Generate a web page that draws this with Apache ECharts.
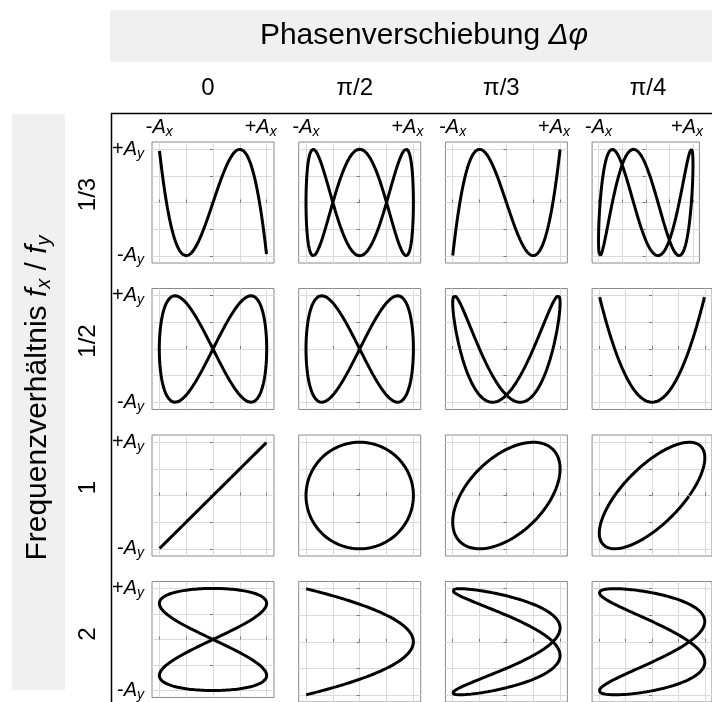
<!DOCTYPE html>
<html>
<head>
<meta charset="utf-8">
<script src="https://cdn.jsdelivr.net/npm/echarts@6/dist/echarts.min.js"></script>
<style>
  html, body { margin: 0; padding: 0; background: #fff; }
  #main { width: 712px; height: 702px; }
</style>
</head>
<body>
<div id="main"></div>
<script>
// Zeilen: Frequenzverhältnis fx / fy
var ratioLabels = ['1/3', '1/2', '1', '2'];
var fxValues = [1, 1, 1, 2];
var fyValues = [3, 2, 1, 1];
// Spalten: Phasenverschiebung
var phaseLabels = ['0', 'π/2', 'π/3', 'π/4'];
var phaseValues = [0, Math.PI / 2, Math.PI / 3, Math.PI / 4];
// Gitterlinien / Achsbeschriftung
var gridTicks = [-1, -0.5, 0, 0.5, 1];
var edgeTicks = [-1, 1];
var steps = 600;

var font = 'Liberation Sans, Arial, sans-serif';
var left0 = 152, top0 = 142, stepX = 146.7, stepY = 146.5, pw = 122, ph = 121;
var R = 1.136;

function lissajous(fx, fy, phi) {
    var pts = [];
    for (var i = 0; i <= steps; i++) {
        var t = 2 * Math.PI * i / steps;
        pts.push([Math.sin(fx * t + phi), Math.sin(fy * t)]);
    }
    return pts;
}

var labelRich = {
    s: { fontFamily: font, fontSize: 20, color: '#000' },
    a: { fontFamily: font, fontSize: 20, fontStyle: 'italic', color: '#000' },
    b: { fontFamily: font, fontSize: 14, fontStyle: 'italic', color: '#000', padding: [9, 0, 0, 0] }
};

var grids = [], xAxes = [], yAxes = [], series = [], graphics = [];

graphics.push({ type: 'rect', shape: { x: 110, y: 10, width: 602, height: 52 }, style: { fill: '#f0f0f0' } });
graphics.push({ type: 'rect', shape: { x: 12, y: 114, width: 53, height: 576 }, style: { fill: '#f0f0f0' } });
graphics.push({ type: 'polyline', shape: { points: [[712, 113.5], [111.5, 113.5], [111.5, 702]] },
    style: { stroke: '#000', lineWidth: 1.5, fill: null } });
graphics.push({ type: 'text', x: 424, y: 36, style: {
    text: '{n|Phasenverschiebung }{i|Δφ}', align: 'center', verticalAlign: 'middle',
    rich: { n: { fontFamily: font, fontSize: 30, color: '#000' },
            i: { fontFamily: font, fontSize: 30, fontStyle: 'italic', color: '#000' } } } });
graphics.push({ type: 'text', x: 38, y: 398, rotation: Math.PI / 2, style: {
    text: '{n|Frequenzverhältnis }{i|f}{b|x}{n| / }{i|f}{b|y}', align: 'center', verticalAlign: 'middle',
    rich: { n: { fontFamily: font, fontSize: 30, color: '#000' },
            i: { fontFamily: font, fontSize: 30, fontStyle: 'italic', color: '#000' },
            b: { fontFamily: font, fontSize: 20, fontStyle: 'italic', color: '#000', padding: [12, 0, 0, 0] } } } });

phaseLabels.forEach(function (lab, c) {
    graphics.push({ type: 'text', x: left0 + c * stepX + pw / 2 - 5, y: 88, style: {
        text: lab, fontFamily: font, fontSize: 24, fill: '#000', align: 'center', verticalAlign: 'middle' } });
});
ratioLabels.forEach(function (lab, r) {
    graphics.push({ type: 'text', x: 88, y: top0 + r * stepY + ph / 2 - 8, rotation: Math.PI / 2, style: {
        text: lab, fontFamily: font, fontSize: 24, fill: '#000', align: 'center', verticalAlign: 'middle' } });
});

for (var r = 0; r < 4; r++) {
    for (var c = 0; c < 4; c++) {
        var g = grids.length;
        grids.push({
            left: left0 + c * stepX, top: top0 + r * stepY, width: pw, height: ph,
            show: true, borderColor: '#8a8a8a', borderWidth: 1, backgroundColor: '#fff'
        });
        // unten: Ticks + Gitter
        xAxes.push({
            gridIndex: g, type: 'value', min: -R, max: R, position: 'bottom',
            axisLine: { show: false },
            axisTick: { show: true, inside: true, length: 3, customValues: gridTicks, lineStyle: { color: '#777' } },
            axisLabel: { show: false },
            splitLine: { show: true, lineStyle: { color: '#dadada', width: 1 } }
        });
        // oben: -Ax / +Ax in der ersten Zeile
        xAxes.push({
            gridIndex: g, type: 'value', min: -R, max: R, position: 'top',
            axisLine: { show: false }, axisTick: { show: false }, splitLine: { show: false },
            axisLabel: {
                show: r === 0, customValues: edgeTicks, margin: 3,
                formatter: function (v) { return v < 0 ? '{s|-}{a|A}{b|x}' : '{s|+}{a|A}{b|x}{p|}'; },
                rich: Object.assign({ p: { width: 12 } }, labelRich)
            }
        });
        // links: Gitter + -Ay / +Ay in der ersten Spalte
        yAxes.push({
            gridIndex: g, type: 'value', min: -R, max: R, position: 'left',
            axisLine: { show: false },
            axisTick: { show: false, customValues: gridTicks },
            axisLabel: {
                show: c === 0, customValues: edgeTicks, margin: 8,
                formatter: function (v) { return v < 0 ? '{s|-}{a|A}{b|y}' : '{s|+}{a|A}{b|y}'; },
                rich: labelRich
            },
            splitLine: { show: true, lineStyle: { color: '#dadada', width: 1 } }
        });
        // rechts: Ticks
        yAxes.push({
            gridIndex: g, type: 'value', min: -R, max: R, position: 'right',
            axisLine: { show: false },
            axisTick: { show: true, inside: true, length: 3, customValues: gridTicks, lineStyle: { color: '#777' } },
            axisLabel: { show: false }, splitLine: { show: false }
        });
        series.push({
            type: 'line', xAxisIndex: 2 * g, yAxisIndex: 2 * g,
            data: lissajous(fxValues[r], fyValues[r], phaseValues[c]),
            showSymbol: false, symbol: 'none', smooth: false,
            lineStyle: { color: '#000', width: 3 }, silent: true
        });
    }
}

var chart = echarts.init(document.getElementById('main'), null, { renderer: 'canvas' });
chart.setOption({
    animation: false,
    backgroundColor: '#fff',
    grid: grids,
    xAxis: xAxes,
    yAxis: yAxes,
    series: series,
    graphic: graphics
});
</script>
</body>
</html>
